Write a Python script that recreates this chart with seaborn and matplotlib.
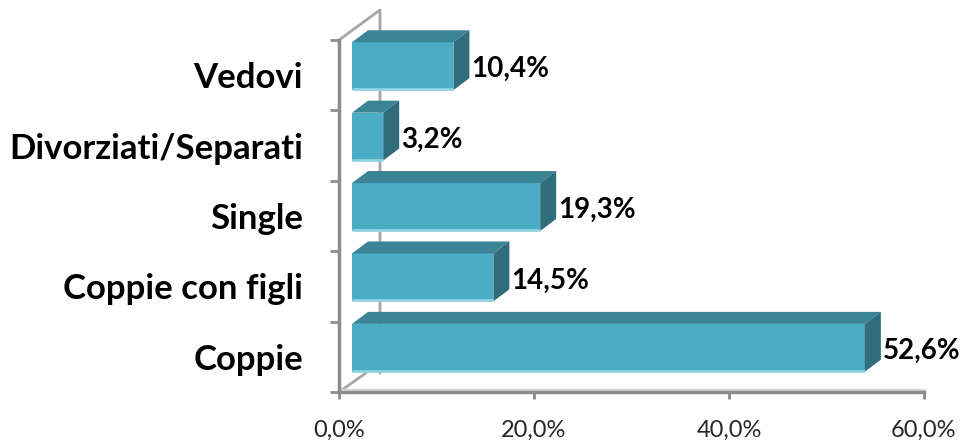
import numpy as np
import pandas as pd
import matplotlib
matplotlib.use("Agg")
import matplotlib.pyplot as plt
import seaborn as sns
from matplotlib.patches import Polygon
from matplotlib.transforms import ScaledTranslation

# Data
categories = ["Vedovi", "Divorziati/Separati", "Single", "Coppie con figli", "Coppie"]
percentages = [10.4, 3.2, 19.3, 14.5, 52.6]
x_ticks = [0, 20, 40, 60]
x_tick_labels = ["0,0%", "20,0%", "40,0%", "60,0%"]

# Excel-like 3D bar colours
FRONT = "#4BACC6"
TOP = "#3A8496"
SIDE = "#2F6C7C"
EDGE = "#8FD3E2"
AXIS_GREY = "#8C8C8C"

sns.set_theme(style="white")
plt.rcParams["font.family"] = ["Lato", "DejaVu Sans"]

fig = plt.figure(figsize=(9.64, 4.42), dpi=100)
ax = fig.add_axes([339 / 964, 50 / 442, 585 / 964, 352 / 442])

df = pd.DataFrame({"categoria": categories, "valore": percentages})
sns.barplot(data=df, x="valore", y="categoria", orient="h", color=FRONT,
            saturation=1, width=0.68, ax=ax, zorder=3)
ax.set_xlim(x_ticks[0], x_ticks[-1])
ax.set_ylim(len(categories) - 0.5, -0.5)

to_px = ax.transData.transform
to_data = ax.transData.inverted().transform

# pixel offsets used for the fake perspective
face_shift = np.array([13.0, 9.0])   # front face sits a bit inside the box
depth = np.array([16.0, 12.0])       # bar depth

shift = ScaledTranslation(face_shift[0] / fig.dpi, face_shift[1] / fig.dpi,
                          fig.dpi_scale_trans)

for bar in ax.patches[:len(categories)]:
    x0, y0 = bar.get_x(), bar.get_y()
    w, h = bar.get_width(), bar.get_height()
    tl, tr, br, bl = to_px([(x0, y0), (x0 + w, y0), (x0 + w, y0 + h), (x0, y0 + h)]) + face_shift
    bar.set_transform(ax.transData + shift)
    bar.set_clip_on(False)
    bar.set_edgecolor("none")

    top = Polygon(to_data([tl, tr, tr + depth, tl + depth]), closed=True,
                  facecolor=TOP, edgecolor="none", zorder=3, clip_on=False)
    side = Polygon(to_data([tr, br, br + depth, tr + depth]), closed=True,
                   facecolor=SIDE, edgecolor="none", zorder=3, clip_on=False)
    ax.add_patch(top)
    ax.add_patch(side)
    edge = to_data([bl + [0, 1], br + [0, 1]])
    ax.plot(edge[:, 0], edge[:, 1], color=EDGE, lw=2, zorder=4,
            solid_capstyle="butt", clip_on=False)

# value labels
for i, v in enumerate(percentages):
    label = f"{v:.1f}".replace(".", ",") + "%"
    ax.annotate(label, xy=(v, i), xytext=(face_shift[0] + depth[0] + 2, 6),
                textcoords="offset pixels", ha="left", va="center",
                fontsize=20, fontweight="bold", color="black", zorder=5,
                annotation_clip=False)

# back wall and floor lines of the 3D box
top_corner = to_px([(0, -0.5)])[0]
bottom_corner = to_px([(0, len(categories) - 0.5)])[0]
right_corner = to_px([(x_ticks[-1], len(categories) - 0.5)])[0]
wall = to_data([top_corner, top_corner + [41, 30],
                [top_corner[0] + 41, bottom_corner[1] + 19]])
ax.plot(wall[:, 0], wall[:, 1], color="#A6A6A6", lw=2, zorder=1, clip_on=False)
floor = to_data([bottom_corner, bottom_corner + [27, 19]])
ax.plot(floor[:, 0], floor[:, 1], color="#A6A6A6", lw=2, zorder=1, clip_on=False)
floor_band = to_data([bottom_corner + [2, 2], right_corner + [0, 2]])
ax.plot(floor_band[:, 0], floor_band[:, 1], color="#D9D9D9", lw=2.5, zorder=1,
        clip_on=False)

# axes styling
for s in ["top", "right"]:
    ax.spines[s].set_visible(False)
for s in ["left", "bottom"]:
    ax.spines[s].set_color(AXIS_GREY)
    ax.spines[s].set_linewidth(2.5)

ax.set_xticks(x_ticks)
ax.set_xticklabels(x_tick_labels)
ax.set_yticks(range(len(categories)))
ax.set_yticklabels(categories, fontsize=25, fontweight="bold", color="black")
ax.set_yticks(np.arange(-0.5, len(categories)), minor=True)
ax.tick_params(axis="y", which="major", length=0, pad=26)
ax.tick_params(axis="y", which="minor", length=6.5, width=2, color=AXIS_GREY,
               direction="out", left=True)
ax.tick_params(axis="x", which="major", length=5, width=2, color=AXIS_GREY,
               direction="out", bottom=True, labelsize=17, labelcolor="#262626",
               pad=15)
ax.set_xlabel("")
ax.set_ylabel("")
ax.grid(False)

fig.savefig("out.png", dpi=100)
